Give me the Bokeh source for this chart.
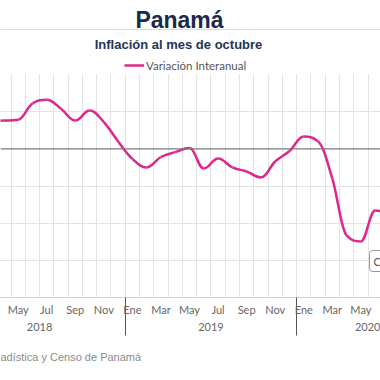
from bokeh.plotting import figure
from bokeh.models import (Range1d, FixedTicker, LinearAxis, Label, Span, BoxAnnotation,
                          Legend, LegendItem, ColumnDataSource, Title)
from bokeh.embed import file_html
from bokeh.resources import INLINE

# ---------------- data ----------------
meses_nombres = ["Ene", "Feb", "Mar", "Abr", "May", "Jun", "Jul", "Ago", "Sep", "Oct", "Nov", "Dic"]
anios = ["2018", "2019", "2020"]
meses_por_anio = [12, 12, 10]

# series (Mar 2018 .. Jul 2020)
serie_anio = [2018] * 10 + [2019] * 12 + [2020] * 7
serie_mes = list(range(2, 12)) + list(range(0, 12)) + list(range(0, 7))
variacion = [0.75, 0.76, 0.78, 1.22, 1.32, 1.08, 0.76, 1.03, 0.72, 0.20,
             -0.27, -0.50, -0.22, -0.09, 0.02, -0.53, -0.26, -0.50, -0.61, -0.77, -0.34, -0.06,
             0.33, 0.20, -0.80, -2.33, -2.49, -1.66, -1.75]

PINK = "#e0258c"
GRID = "#e3e3e3"
TXT_GRAY = "#666666"

xs = [(a - 2018) * 12 + m for a, m in zip(serie_anio, serie_mes)]
ys = variacion

# ---------- smooth spline (Highcharts-like control points) ----------
sm = 1.5
den = sm + 1
n = len(xs)
lc = [(xs[i], ys[i]) for i in range(n)]
rc = [(xs[i], ys[i]) for i in range(n)]
for i in range(1, n - 1):
    x, y = xs[i], ys[i]
    lx, ly = xs[i - 1], ys[i - 1]
    nx, ny = xs[i + 1], ys[i + 1]
    lcx = (sm * x + lx) / den
    lcy = (sm * y + ly) / den
    rcx = (sm * x + nx) / den
    rcy = (sm * y + ny) / den
    corr = ((rcy - lcy) * (rcx - x)) / (rcx - lcx) + y - rcy
    lcy += corr
    rcy += corr
    if lcy > ly and lcy > y:
        lcy = max(ly, y); rcy = 2 * y - lcy
    elif lcy < ly and lcy < y:
        lcy = min(ly, y); rcy = 2 * y - lcy
    if rcy > ny and rcy > y:
        rcy = max(ny, y); lcy = 2 * y - rcy
    elif rcy < ny and rcy < y:
        rcy = min(ny, y); lcy = 2 * y - rcy
    lc[i] = (lcx, lcy)
    rc[i] = (rcx, rcy)

seg = ColumnDataSource(dict(
    x0=xs[:-1], y0=ys[:-1], x1=xs[1:], y1=ys[1:],
    cx0=[rc[i][0] for i in range(n - 1)], cy0=[rc[i][1] for i in range(n - 1)],
    cx1=[lc[i][0] for i in range(1, n)], cy1=[lc[i][1] for i in range(1, n)],
))

# ---------------- figure ----------------
W, H = 380, 380
PLOT_TOP, PLOT_BOTTOM = 74, 297           # pixels of the chart area
Y_MIN, Y_MAX = -4, 2
ppu = (PLOT_BOTTOM - PLOT_TOP) / (Y_MAX - Y_MIN)
y_top = Y_MAX + PLOT_TOP / ppu             # frame extends to the top of the canvas

month_px = 14.28
x0_px = -39.46
p = figure(width=W, height=H, output_backend="svg", toolbar_location=None,
           x_range=Range1d(-x0_px / month_px, (W - x0_px) / month_px),
           y_range=Range1d(Y_MIN, y_top),
           y_axis_location=None, x_axis_location=None,
           min_border_left=0, min_border_right=0, min_border_top=0,
           min_border_bottom=H - PLOT_BOTTOM)
p.outline_line_color = None
p.background_fill_color = "white"
p.border_fill_color = "white"

# grids
total_meses = sum(meses_por_anio)
p.xgrid.ticker = FixedTicker(ticks=[k - 0.5 for k in range(total_meses + 1)])
p.xgrid.grid_line_color = GRID
p.ygrid.ticker = FixedTicker(ticks=[-3, -2, -1, 1])
p.ygrid.grid_line_color = GRID

# hide grid above chart area (header zone)
p.add_layout(BoxAnnotation(bottom=Y_MAX, top=y_top + 1, fill_color="white", fill_alpha=1,
                           line_color=None, level="underlay"))

p.add_layout(Span(location=0, dimension="width", line_color="#7a7a7a", line_width=1.2))

# month axis
ticks_mes = list(range(0, total_meses, 2))
ax1 = LinearAxis(ticker=FixedTicker(ticks=ticks_mes, minor_ticks=[-0.5, 11.5, 23.5]))
ax1.major_label_overrides = {t: meses_nombres[t % 12] for t in ticks_mes}
ax1.major_tick_line_color = None
ax1.major_tick_out = 0
ax1.major_tick_in = 0
ax1.minor_tick_out = 38
ax1.minor_tick_in = 0
ax1.minor_tick_line_color = "#555555"
ax1.axis_line_color = "#d0d0d0"
ax1.major_label_standoff = -33
ax1.major_label_text_font = "Lato"
ax1.major_label_text_font_size = "11px"
ax1.major_label_text_color = TXT_GRAY
p.add_layout(ax1, "below")

# year axis
centros = []
ini = 0
for c in meses_por_anio:
    centros.append(ini + (c - 1) / 2)
    ini += c
ax2 = LinearAxis(ticker=FixedTicker(ticks=centros, minor_ticks=[]))
ax2.major_label_overrides = {c: a for c, a in zip(centros, anios)}
ax2.major_tick_line_color = None
ax2.major_tick_out = 0
ax2.major_tick_in = 0
ax2.minor_tick_line_color = None
ax2.minor_tick_out = 0
ax2.axis_line_color = None
ax2.major_label_standoff = 4
ax2.major_label_text_font = "Lato"
ax2.major_label_text_font_size = "11px"
ax2.major_label_text_color = TXT_GRAY
p.add_layout(ax2, "below")

p.add_layout(Title(text="adística y Censo de Panamá", align="left", offset=0, standoff=30,
                   text_font="Liberation Sans", text_font_size="11px", text_font_style="normal",
                   text_color="#8a8a8a"), "below")

# curve
curve = p.bezier(x0="x0", y0="y0", x1="x1", y1="y1", cx0="cx0", cy0="cy0", cx1="cx1", cy1="cy1",
                 source=seg, line_color=PINK, line_width=2.5)

legend = Legend(items=[LegendItem(label="Variación Interanual", renderers=[curve], index=0)],
                location=(124, PLOT_BOTTOM - 75), padding=0, margin=0, label_standoff=2,
                glyph_width=20, glyph_height=20, label_height=20,
                border_line_color=None, background_fill_alpha=0,
                label_text_font="Lato", label_text_font_size="11.5px", label_text_color="#555555")
p.add_layout(legend, "center")

# header texts (screen units from the frame's bottom-left)
p.add_layout(Label(x=179, y=PLOT_BOTTOM - 19.5, x_units="screen", y_units="screen", text="Panamá",
                   text_font="Liberation Sans", text_font_style="bold", text_font_size="23px",
                   text_color="#1b2a48", text_align="center", text_baseline="middle"))
p.add_layout(Span(location=PLOT_BOTTOM - 29, location_units="screen", dimension="width",
                  line_color="#dcdcdc", line_width=1))
p.add_layout(Label(x=178, y=PLOT_BOTTOM - 44, x_units="screen", y_units="screen",
                   text="Inflación al mes de octubre",
                   text_font="Liberation Sans", text_font_style="bold", text_font_size="13px",
                   text_color="#263452", text_align="center", text_baseline="middle"))

# cut-off annotation box at the right
p.add_layout(Label(x=369, y=PLOT_BOTTOM - 271, x_units="screen", y_units="screen", text="C",
                   text_font="Lato", text_font_size="11px", text_color="#555555",
                   text_align="left", text_baseline="bottom", padding=4,
                   border_line_color="#999999", border_line_width=1, border_radius=3,
                   background_fill_color="white"))

open("out.html", "w").write(file_html(p, INLINE))
